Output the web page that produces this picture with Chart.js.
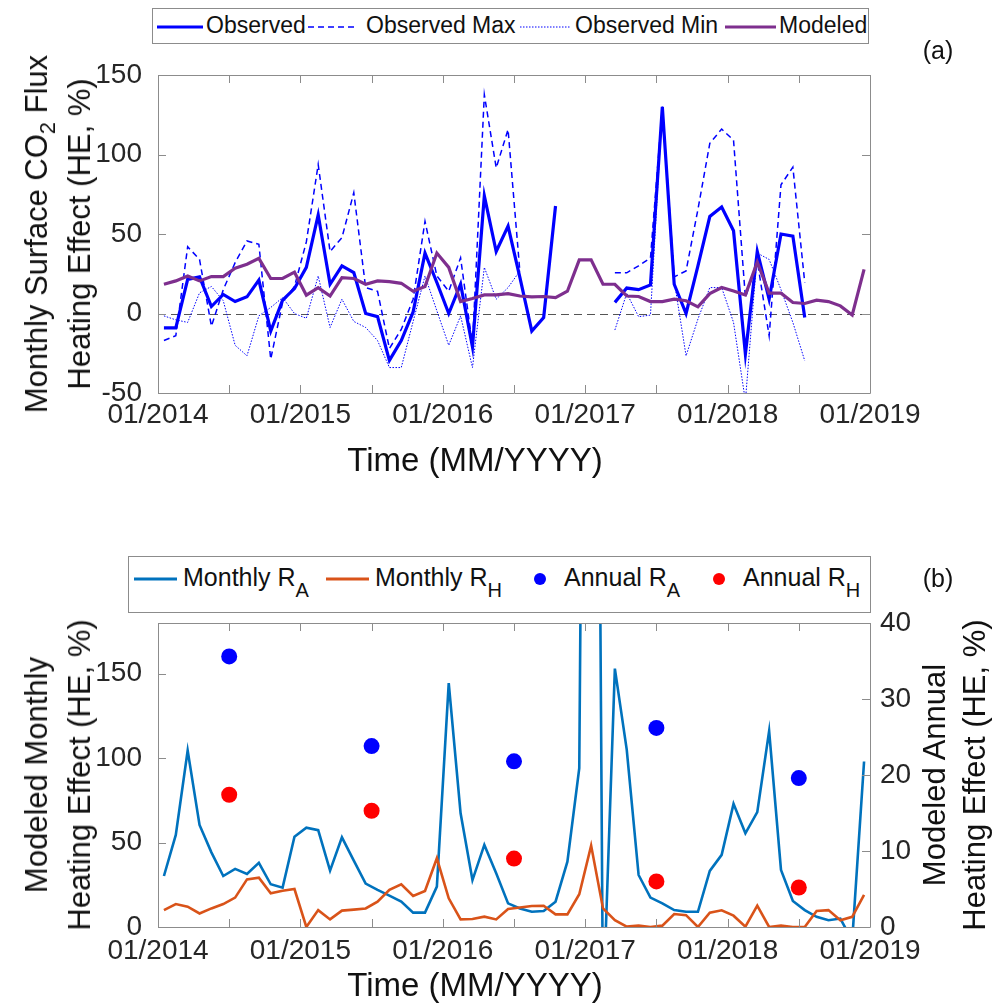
<!DOCTYPE html>
<html>
<head>
<meta charset="utf-8">
<script src="https://cdn.jsdelivr.net/npm/chart.js@4.4.1/dist/chart.umd.min.js"></script>
<style>
body { margin: 0; background: #fff; }
#page { position: relative; width: 1003px; height: 1008px; font-family: "Liberation Sans", Arial, Helvetica, sans-serif; color: #111; }
canvas { position: absolute; left: 0; }
.box { position: absolute; border: 1px solid #8c8c8c; background: #fff; font-size: 23px; }
.box span, .box svg { position: absolute; white-space: nowrap; }
.lab { position: absolute; transform: translate(-50%, -50%); white-space: nowrap; }
.rot { position: absolute; transform: translate(-50%, -50%) rotate(-90deg); white-space: nowrap; text-align: center; font-size: 31px; }
sub { font-size: 70%; vertical-align: -0.35em; line-height: 0; }
.box .sub2 { position: relative; font-size: 80%; top: 0.55em; }
</style>
</head>
<body>
<div id="page">
  <canvas id="chartA" width="1003" height="470" style="top:0"></canvas>
  <canvas id="chartB" width="1003" height="508" style="top:500px"></canvas>

  <div class="box" style="left:152px; top:8px; width:715px; height:34px;">
    <svg style="left:4px; top:16px" width="46" height="4"><line x1="0" y1="2" x2="46" y2="2" stroke="#0000ff" stroke-width="3"/></svg>
    <span style="left:53px; top:3px">Observed</span>
    <svg style="left:155px; top:16px" width="49" height="4"><line x1="0" y1="2" x2="49" y2="2" stroke="#0000ff" stroke-width="1.5" stroke-dasharray="6 4"/></svg>
    <span style="left:213px; top:3px">Observed Max</span>
    <svg style="left:367px; top:16px" width="50" height="4"><line x1="0" y1="2" x2="50" y2="2" stroke="#0000ff" stroke-width="1" stroke-dasharray="1.5 1.5"/></svg>
    <span style="left:422px; top:3px">Observed Min</span>
    <svg style="left:572px; top:16px" width="51" height="4"><line x1="0" y1="2" x2="51" y2="2" stroke="#7e2f8e" stroke-width="3"/></svg>
    <span style="left:626px; top:3px">Modeled</span>
  </div>
  <div class="lab" style="left:938px; top:50px; font-size:25px">(a)</div>
  <div class="lab" style="left:475px; top:460px; font-size:33px">Time (MM/YYYY)</div>
  <div class="rot" style="left:58px; top:234px; line-height:43px">Monthly Surface CO<sub>2</sub> Flux<br>Heating Effect (HE, %)</div>

  <div class="box" style="left:128px; top:556px; width:741px; height:55px; font-size:25px">
    <svg style="left:5px; top:20px" width="43" height="4"><line x1="0" y1="2" x2="43" y2="2" stroke="#0072bd" stroke-width="3"/></svg>
    <span style="left:54px; top:6px">Monthly R<span class="sub2">A</span></span>
    <svg style="left:197px; top:20px" width="43" height="4"><line x1="0" y1="2" x2="43" y2="2" stroke="#d95319" stroke-width="3"/></svg>
    <span style="left:246px; top:6px">Monthly R<span class="sub2">H</span></span>
    <svg style="left:404px; top:15px" width="14" height="14"><circle cx="7" cy="7" r="6" fill="#0000ff"/></svg>
    <span style="left:435px; top:6px">Annual R<span class="sub2">A</span></span>
    <svg style="left:583px; top:15px" width="14" height="14"><circle cx="7" cy="7" r="6" fill="#ff0000"/></svg>
    <span style="left:614px; top:6px">Annual R<span class="sub2">H</span></span>
  </div>
  <div class="lab" style="left:938px; top:578px; font-size:25px">(b)</div>
  <div class="lab" style="left:475px; top:985px; font-size:33px">Time (MM/YYYY)</div>
  <div class="rot" style="left:58px; top:775px; line-height:43px">Modeled Monthly<br>Heating Effect (HE, %)</div>
  <div class="rot" style="left:955px; top:775px; line-height:40px">Modeled Annual<br>Heating Effect (HE, %)</div>
</div>

<script>
// tick labels for the time axis (one per January)
const yearTicks = ["01/2014", "01/2015", "01/2016", "01/2017", "01/2018", "01/2019"];

// panel (a): monthly values, Jan 2014 .. Dec 2018
const observed = [
  -9, -9, 21.5, 23, 4.4, 12, 7.5, 10.5, 21, -11,
  8.4, 15.7, 29, 62, 18.4, 30, 25.7, 0, -2, -29.5,
  -17, 1, 38, 19.5, 0, 18.4, -21, 74, 39, 55,
  22.6, -11, -2.5, 67.6, null, null, null, null, 7, 16,
  15, 18, 130, 18.4, 0, 30, 61, 67, 52, -25.5,
  39, 9, 50, 48.7, -2.5, null, null, null, null, null
];
const observedMax = [
  -17, -14, 42, 34, -8, 15, 32, 45.6, 43.5, -28.7,
  7, 17, 45, 93.7, 39, 47.7, 76, 16.3, 14, -22,
  -10, 9, 58, 23.6, 14, 35, -20, 137.6, 91.6, 115.7,
  26, null, null, null, null, null, null, null, 25.6, 25.6,
  30, 35, 130, 23, 26.8, 65.5, 107, 116, 109, 10,
  33, -14, 81, 92, 19.5, null, null, null, null, null
];
const observedMin = [
  -1.5, -4, -5.6, 13, 17, 8, -20, -26.6, -1.5, 3.8,
  10, 0, -3, 23.6, -8.8, 9, -5, -8.8, -17, -34,
  -34, -5, 23.6, 1.7, -20, -1.5, -34, 29, 9, 16.3,
  26.8, null, null, null, null, null, null, null, -10.4, 12.7,
  -2, -1, 130, 20.5, -26.6, -3.5, 16.3, 16.3, -5.6, -55,
  38, 34, 15, -5.6, -29.7, null, null, null, null, null
];
const modeled = [
  18.4, 20.5, 23.6, 20.5, 23.2, 23.2, 28.5, 31, 34.7, 22,
  22, 26, 11.5, 16.3, 11, 22.6, 22, 18.4, 20.5, 20,
  19, 14, 17, 38, 29, 7.5, 9.4, 11.7, 11.7, 12.5,
  11, 10.5, 10.7, 10, 14, 33.7, 33.7, 18.4, 18.4, 11,
  10.7, 7.5, 7.5, 9, 8, 4.2, 12.5, 16.3, 14.2, 11.7,
  32.4, 12.8, 12.8, 6.9, 6.3, 8.4, 7.5, 4.8, -1, 27.8
];

// panel (b): modeled monthly (left axis)
const monthlyRA = [
  30.2, 54.5, 104.5, 60.4, 44.2, 30.2, 34.4, 31.4, 38, 25.3,
  23.3, 53.5, 58.8, 57.3, 33.4, 53.1, 39.3, 25.7, 22, 18.6,
  15, 8.5, 8.5, 23.9, 144.4, 67.3, 27.8, 48.6, 31.8, 14,
  11, 9, 9.5, 15, 38.7, 94, 1000, -50, 153, 105,
  30.8, 17.4, 14, 10, 9, 9, 33.2, 42.7, 72.9, 55.5,
  68, 116, 33.8, 15.4, 10, 6, 4, 5, -8, 98
];
const monthlyRH = [
  10, 13.6, 12, 8, 11, 13.6, 17.4, 28.2, 29.2, 20,
  21.5, 22.5, 0, 10, 4.5, 9.7, 10.3, 11, 15, 22,
  25.3, 18.4, 21.3, 40.7, 17, 4.5, 4.7, 6.1, 4.5, 10.7,
  11.5, 12.4, 12.6, 7.5, 7.5, 19.4, 48.2, 11, 4.1, 0.2,
  0.8, 0, 0.8, 7.7, 7, 0, 8.5, 9.9, 6.7, 0.2,
  12.6, 0, 0.8, 0, 0, 9.5, 10, 4, 6, 19
];
// panel (b): modeled annual (right axis), plotted at July of each year
const annualMonth = [6, 18, 30, 42, 54];
const annualRA = [35.6, 23.8, 21.8, 26.2, 19.6];
const annualRH = [17.4, 15.3, 9.0, 6.0, 5.2];

function toPoints(values) {
    return values.map(function (v, i) {
        return { x: i + 0.5, y: v };
    });
}

const tickFont = { family: "Liberation Sans, Arial, sans-serif", size: 28 };
const tickColor = "#262626";

// box around plot area with inward ticks (MATLAB style)
const frame = {
    id: "frame",
    afterDraw(chart) {
        const ctx = chart.ctx;
        const a = chart.chartArea;
        const s = chart.scales;
        const len = 8;
        ctx.save();
        ctx.strokeStyle = "#8c8c8c";
        ctx.lineWidth = 1;
        ctx.beginPath();
        ctx.rect(Math.round(a.left) + 0.5, Math.round(a.top) + 0.5, Math.round(a.right - a.left), Math.round(a.bottom - a.top));
        s.x.ticks.forEach(function (t) {
            const px = Math.round(s.x.getPixelForValue(t.value)) + 0.5;
            ctx.moveTo(px, a.bottom); ctx.lineTo(px, a.bottom - len);
            ctx.moveTo(px, a.top); ctx.lineTo(px, a.top + len);
        });
        s.y.ticks.forEach(function (t) {
            const py = Math.round(s.y.getPixelForValue(t.value)) + 0.5;
            ctx.moveTo(a.left, py); ctx.lineTo(a.left + len, py);
            if (!s.y1) { ctx.moveTo(a.right, py); ctx.lineTo(a.right - len, py); }
        });
        if (s.y1) {
            s.y1.ticks.forEach(function (t) {
                const py = Math.round(s.y1.getPixelForValue(t.value)) + 0.5;
                ctx.moveTo(a.right, py); ctx.lineTo(a.right - len, py);
            });
        }
        ctx.stroke();
        ctx.restore();
    }
};

const zeroLine = {
    id: "zeroLine",
    beforeDatasetsDraw(chart) {
        const ctx = chart.ctx;
        const a = chart.chartArea;
        const py = Math.round(chart.scales.y.getPixelForValue(0)) + 0.5;
        ctx.save();
        ctx.strokeStyle = "#555";
        ctx.lineWidth = 1;
        ctx.setLineDash([8, 5]);
        ctx.beginPath();
        ctx.moveTo(a.left, py);
        ctx.lineTo(a.right, py);
        ctx.stroke();
        ctx.restore();
    }
};

function xScale(height, pad) {
    return {
        type: "linear",
        min: 0,
        max: 60,
        grid: { display: false, drawTicks: false },
        border: { display: false },
        ticks: {
            stepSize: 6,
            autoSkip: false,
            maxRotation: 0,
            padding: pad,
            font: tickFont,
            color: tickColor,
            callback: function (value) {
                return value % 12 === 0 ? yearTicks[value / 12] : "";
            }
        },
        afterFit: function (scale) { scale.height = height; }
    };
}

new Chart(document.getElementById("chartA"), {
    type: "line",
    data: {
        datasets: [
            { label: "Observed", data: toPoints(observed), borderColor: "#0000ff", borderWidth: 3.2, order: 4 },
            { label: "Observed Max", data: toPoints(observedMax), borderColor: "#0000ff", borderWidth: 1.5, borderDash: [6, 4], order: 3 },
            { label: "Observed Min", data: toPoints(observedMin), borderColor: "#0000ff", borderWidth: 1, borderDash: [1.5, 1.5], order: 2 },
            { label: "Modeled", data: toPoints(modeled), borderColor: "#7e2f8e", borderWidth: 3.2, order: 1 }
        ]
    },
    options: {
        responsive: false,
        animation: false,
        devicePixelRatio: 1,
        spanGaps: false,
        elements: { point: { radius: 0 }, line: { tension: 0 } },
        layout: { padding: { top: 75, right: 133, left: 0, bottom: 0 } },
        plugins: { legend: { display: false }, tooltip: { enabled: false } },
        scales: {
            x: xScale(77, 5),
            y: {
                min: -50,
                max: 150,
                grid: { display: false, drawTicks: false },
                border: { display: false },
                ticks: { stepSize: 50, padding: 16, font: tickFont, color: tickColor },
                afterFit: function (scale) { scale.width = 158; }
            }
        }
    },
    plugins: [frame, zeroLine]
});

new Chart(document.getElementById("chartB"), {
    type: "line",
    data: {
        datasets: [
            { label: "Monthly RA", data: toPoints(monthlyRA), borderColor: "#0072bd", borderWidth: 2.6, yAxisID: "y", order: 4 },
            { label: "Monthly RH", data: toPoints(monthlyRH), borderColor: "#d95319", borderWidth: 2.6, yAxisID: "y", order: 3 },
            {
                label: "Annual RA",
                data: annualMonth.map(function (m, i) { return { x: m, y: annualRA[i] }; }),
                showLine: false, pointRadius: 8, pointBackgroundColor: "#0000ff", pointBorderWidth: 0,
                yAxisID: "y1", order: 2
            },
            {
                label: "Annual RH",
                data: annualMonth.map(function (m, i) { return { x: m, y: annualRH[i] }; }),
                showLine: false, pointRadius: 8, pointBackgroundColor: "#ff0000", pointBorderWidth: 0,
                yAxisID: "y1", order: 1
            }
        ]
    },
    options: {
        responsive: false,
        animation: false,
        devicePixelRatio: 1,
        elements: { point: { radius: 0 }, line: { tension: 0 } },
        layout: { padding: { top: 123, right: 0, left: 0, bottom: 0 } },
        plugins: { legend: { display: false }, tooltip: { enabled: false } },
        scales: {
            x: xScale(81, 7),
            y: {
                position: "left",
                min: 0,
                max: 180,
                grid: { display: false, drawTicks: false },
                border: { display: false },
                ticks: { stepSize: 50, includeBounds: false, padding: 16, font: tickFont, color: tickColor },
                afterFit: function (scale) { scale.width = 158; }
            },
            y1: {
                position: "right",
                min: 0,
                max: 40,
                grid: { display: false, drawTicks: false },
                border: { display: false },
                ticks: { stepSize: 10, padding: 10, font: tickFont, color: tickColor },
                afterFit: function (scale) { scale.width = 133; }
            }
        }
    },
    plugins: [frame]
});
</script>
</body>
</html>
